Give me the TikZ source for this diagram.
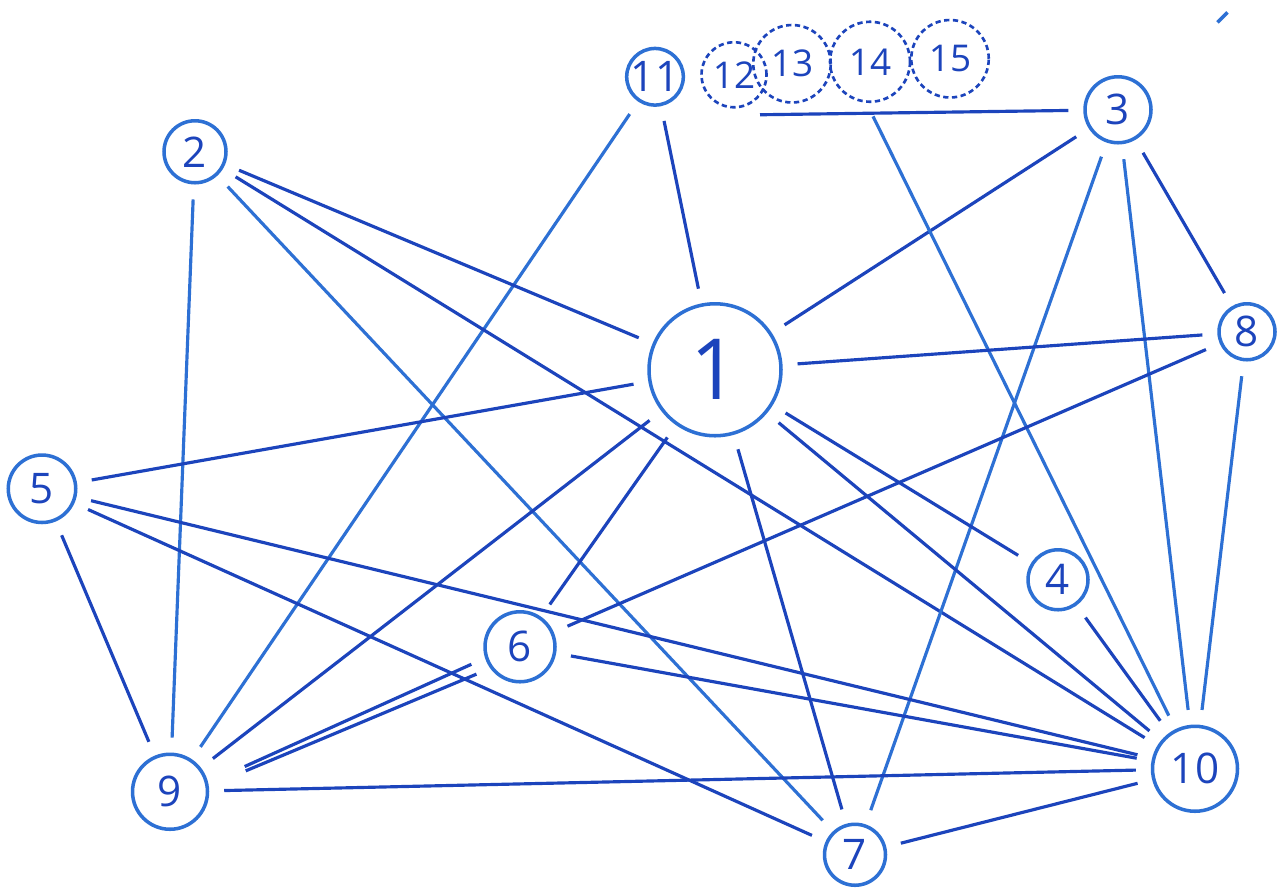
\documentclass[tikz,border=0pt]{standalone}
\usepackage{fontspec}
\setmainfont{Open Sans}
\definecolor{ink}{RGB}{28,68,188}
\definecolor{inkl}{RGB}{45,112,212}
\begin{document}
\begin{tikzpicture}[x=0.02cm,y=-0.02cm,
  v/.style={circle,draw=inkl,line width=2pt,text=ink,inner sep=0pt,minimum size=#1,font=\fontsize{24}{24}\selectfont},
  dv/.style={circle,draw=ink,densely dashed,line width=1.5pt,text=ink,inner sep=0pt,minimum size=#1,font=\fontsize{21}{21}\selectfont},
  edge/.style={draw=ink,line width=1.8pt,shorten >=0.3cm,shorten <=0.3cm},
  edgel/.style={edge,draw=inkl}]
\fill[white] (0,0) rectangle (1280,892);
% nodes
\node[v=1.12cm] (n11) at (655,75) {11};
\node[dv=1.3cm] (n12) at (734,73) {12};
\node[dv=1.55cm] (n13) at (792,62) {13};
\node[dv=1.6cm] (n14) at (870,60) {14};
\node[dv=1.55cm] (n15) at (950,57) {15};
\node[v=1.32cm] (n3) at (1118,108) {3};
\node[v=1.24cm] (n2) at (195,150) {2};
\node[v=2.64cm,font=\fontsize{48}{48}\selectfont] (n1) at (715,368) {1};
\node[v=1.12cm] (n8) at (1247,330) {8};
\node[v=1.35cm] (n5) at (42,487) {5};
\node[v=1.2cm] (n4) at (1058,578) {4};
\node[v=1.4cm] (n6) at (520,645) {6};
\node[v=1.5cm] (n9) at (170,790) {9};
\node[v=1.7cm] (n10) at (1195,767) {10};
\node[v=1.22cm] (n7) at (855,853) {7};
\coordinate (c12) at (760,113);
\coordinate (s1) at (1228,10);
\coordinate (s2) at (1238,0);
% edges
\draw[edge] (n11) -- (n1);
\draw[edgel] (n11) -- (n9);
\draw[edge] (n2) -- (n1);
\draw[edge] (n2) -- (n10);
\draw[edgel] (n2) -- (n7);
\draw[edgel] (n2) -- (n9);
\draw[edge] (n3) -- (n1);
\draw[edgel] (n3) -- (n7);
\draw[edgel] (n3) -- (n10);
\draw[edge] (n3) -- (n8);
\draw[edge,shorten <=0pt] (c12) -- (n3);
\draw[edgel] (n14.265) -- (n10);
\draw[edge] (n1) -- (n8);
\draw[edge] (n1) -- (n5);
\draw[edge] (n1) -- (n9);
\draw[edge] (n1) -- (n6);
\draw[edge] (n1) -- (n7);
\draw[edge] (n1) -- (n10);
\draw[edge] (n1) -- (n4);
\draw[edge] (n8) -- (n6);
\draw[edgel] (n8) -- (n10);
\draw[edge] (n5) -- (n10);
\draw[edge] (n5) -- (n7);
\draw[edge] (n5) -- (n9);
\draw[edge] (n6) -- (n10);
\draw[edge,shorten <=0.8cm] (n9.13) -- (n6.198);
\draw[edge,shorten <=0.8cm] (n9.8) -- (n6.216);
\draw[edge] (n9) -- (n10);
\draw[edge] (n7) -- (n10);
\draw[edge] (n4) -- (n10);
\draw[edgel,line width=2pt] (s1) -- (s2);
\end{tikzpicture}
\end{document}
